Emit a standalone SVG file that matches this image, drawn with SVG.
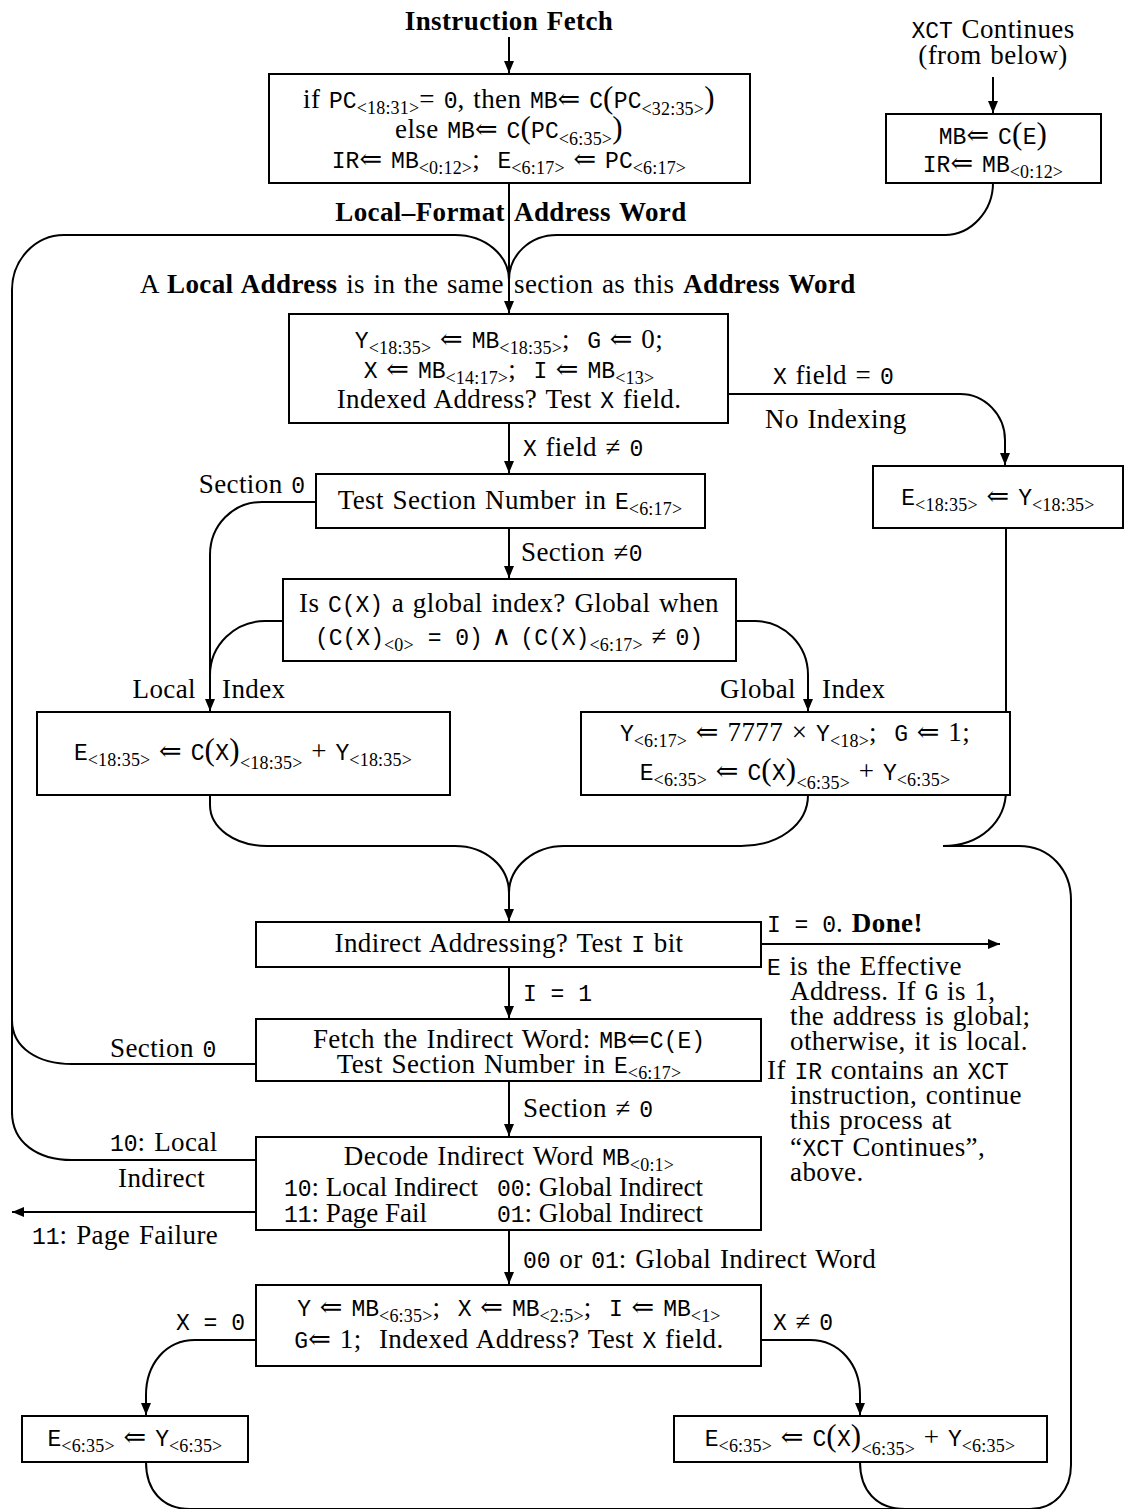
<svg xmlns="http://www.w3.org/2000/svg" width="1131" height="1509" viewBox="0 0 1131 1509">
  <style>
    .box { fill: #fff; stroke: #000; stroke-width: 2; }
    .ln { fill: none; stroke: #000; stroke-width: 2; }
    .ar { marker-end: url(#ah); }
    text { font-family: "Liberation Serif", "DejaVu Serif", serif; font-size: 27px; letter-spacing: 0.4px; word-spacing: 1.5px; fill: #000; }
    .c { text-anchor: middle; }
    .e { text-anchor: end; }
    .tt { font-family: "Liberation Mono", "DejaVu Sans Mono", monospace; font-size: 23px; letter-spacing: 0; word-spacing: 0; }
    .s { font-size: 18px; letter-spacing: 0.2px; }
    .b { font-weight: bold; }
    .P { font-size: 31px; }
    .n { letter-spacing: 0; word-spacing: 0; }
  </style>
  <defs>
    <marker id="ah" viewBox="0 0 12 10" refX="12" refY="5" markerWidth="12" markerHeight="10" markerUnits="userSpaceOnUse" orient="auto">
      <path d="M0,0 L12,5 L0,10 z" fill="#000"/>
    </marker>
  </defs>

  <!-- connectors -->
  <g id="connectors">
    <path class="ln ar" d="M509 37 V73"/>
    <path class="ln ar" d="M993 77 V113"/>
    <path class="ln ar" d="M509 183 V313"/>
    <!-- left re-entry loop from indirect words -->
    <path class="ln" d="M509 280 C509 255 485 235 455 235 H64 C35 235 12 260 12 290 V1115"/>
    <path class="ln" d="M993 183 C993 211 971 235 945 235 H557 C530 235 509 255 509 280"/>
    <!-- no indexing -->
    <path class="ln ar" d="M728 394 H960 C985 394 1005 415 1005 440 V465"/>
    <path class="ln ar" d="M509 423 V473"/>
    <path class="ln ar" d="M316 502 H262 C233 502 210 525 210 555 V711"/>
    <path class="ln" d="M283 621 H265 C235 621 210 645 210 675"/>
    <path class="ln ar" d="M509 528 V578"/>
    <path class="ln ar" d="M736 621 H755 C784 621 808 645 808 675 V711"/>
    <!-- merge into indirect test -->
    <path class="ln ar" d="M210 795 V805 C210 828 235 846 267 846 H455 C485 846 509 866 509 893 V921"/>
    <path class="ln" d="M808 795 C808 825 778 846 741 846 H564 C535 846 509 866 509 893"/>
    <path class="ln" d="M1006 528 V790 C1006 822 980 846 943 846"/>
    <path class="ln" d="M190 1509 H1030 C1055 1509 1071 1490 1071 1465 V900 C1071 870 1050 846 1019 846 H943"/>
    <path class="ln" d="M146 1462 C146 1490 162 1509 190 1509"/>
    <path class="ln" d="M860 1462 C860 1490 876 1509 905 1509"/>
    <!-- indirect chain -->
    <path class="ln ar" d="M761 944 H1000"/>
    <path class="ln ar" d="M509 967 V1018"/>
    <path class="ln" d="M256 1064 H72 C38 1064 12 1048 12 1020"/>
    <path class="ln ar" d="M509 1081 V1136"/>
    <path class="ln" d="M256 1160 H72 C38 1160 12 1143 12 1112"/>
    <path class="ln ar" d="M256 1212 H12"/>
    <path class="ln ar" d="M509 1230 V1284"/>
    <path class="ln ar" d="M256 1340 H195 C165 1340 146 1365 146 1395 V1415"/>
    <path class="ln ar" d="M761 1340 H810 C840 1340 860 1365 860 1395 V1415"/>
  </g>

  <!-- free labels -->
  <g id="labels">
    <text class="c b" x="509" y="30">Instruction Fetch</text>
    <text class="c" x="993" y="38"><tspan class="tt">XCT</tspan> Continues</text>
    <text class="c" x="993" y="64">(from below)</text>
    <text class="e b" x="505" y="221">Local–Format</text>
    <text class="b" x="514" y="221">Address Word</text>
    <text class="e" x="504" y="293">A <tspan class="b">Local Address</tspan> is in the same</text>
    <text x="514" y="293">section as this <tspan class="b">Address Word</tspan></text>
    <text x="773" y="384"><tspan class="tt">X</tspan> field = <tspan class="tt">0</tspan></text>
    <text x="765" y="428">No Indexing</text>
    <text x="523" y="456"><tspan class="tt">X</tspan> field ≠ <tspan class="tt">0</tspan></text>
    <text class="e" x="305" y="493">Section <tspan class="tt">0</tspan></text>
    <text x="521" y="561">Section ≠<tspan class="tt">0</tspan></text>
    <text class="e" x="196" y="698">Local</text>
    <text x="222" y="698">Index</text>
    <text class="e" x="796" y="698">Global</text>
    <text x="822" y="698">Index</text>
    <text x="767" y="932"><tspan class="tt">I = 0</tspan>. <tspan class="b">Done!</tspan></text>
    <!-- note on the effective address -->
    <text x="767" y="975"><tspan class="tt">E</tspan> is the Effective</text>
    <text x="790" y="1000">Address. If <tspan class="tt">G</tspan> is 1,</text>
    <text x="790" y="1025">the address is global;</text>
    <text x="790" y="1050">otherwise, it is local.</text>
    <text x="767" y="1079">If <tspan class="tt">IR</tspan> contains an <tspan class="tt">XCT</tspan></text>
    <text x="790" y="1104">instruction, continue</text>
    <text x="790" y="1129">this process at</text>
    <text x="790" y="1156">“<tspan class="tt">XCT</tspan> Continues”,</text>
    <text x="790" y="1181">above.</text>
    <text x="523" y="1001" class="tt">I = 1</text>
    <text x="110" y="1057">Section <tspan class="tt">0</tspan></text>
    <text x="523" y="1117">Section ≠ <tspan class="tt">0</tspan></text>
    <text x="110" y="1151"><tspan class="tt">10</tspan>: Local</text>
    <text x="118" y="1187">Indirect</text>
    <text x="32" y="1244"><tspan class="tt">11</tspan>: Page Failure</text>
    <text x="523" y="1268"><tspan class="tt">00</tspan> or <tspan class="tt">01</tspan>: Global Indirect Word</text>
    <text class="e tt" x="245" y="1330">X = 0</text>
    <text x="773" y="1330"><tspan class="tt">X</tspan> ≠ <tspan class="tt">0</tspan></text>
  </g>

  <g id="fetch">
    <rect class="box" x="269" y="74" width="481" height="109"/>
    <text class="c" x="509" y="108">if <tspan class="tt">PC</tspan><tspan class="s" dy="6">&lt;18:31&gt;</tspan><tspan dy="-6">= </tspan><tspan class="tt">0</tspan>, then <tspan class="tt">MB</tspan>⇐ <tspan class="tt">C</tspan><tspan class="P">(</tspan><tspan class="tt">PC</tspan><tspan class="s" dy="7">&lt;32:35&gt;</tspan><tspan class="P" dy="-7">)</tspan></text>
    <text class="c" x="509" y="138">else <tspan class="tt">MB</tspan>⇐ <tspan class="tt">C</tspan><tspan class="P">(</tspan><tspan class="tt">PC</tspan><tspan class="s" dy="7">&lt;6:35&gt;</tspan><tspan class="P" dy="-7">)</tspan></text>
    <text class="c" x="509" y="168"><tspan class="tt">IR</tspan>⇐ <tspan class="tt">MB</tspan><tspan class="s" dy="6">&lt;0:12&gt;</tspan><tspan dy="-6">;&#160; </tspan><tspan class="tt">E</tspan><tspan class="s" dy="6">&lt;6:17&gt;</tspan><tspan dy="-6"> ⇐ </tspan><tspan class="tt">PC</tspan><tspan class="s" dy="6">&lt;6:17&gt;</tspan></text>
  </g>

  <g id="xct">
    <rect class="box" x="886" y="114" width="215" height="69"/>
    <text class="c" x="993" y="144"><tspan class="tt">MB</tspan>⇐ <tspan class="tt">C</tspan><tspan class="P">(</tspan><tspan class="tt">E</tspan><tspan class="P">)</tspan></text>
    <text class="c" x="993" y="172"><tspan class="tt">IR</tspan>⇐ <tspan class="tt">MB</tspan><tspan class="s" dy="6">&lt;0:12&gt;</tspan></text>
  </g>

  <g id="local-word">
    <rect class="box" x="289" y="314" width="439" height="109"/>
    <text class="c" x="509" y="348"><tspan class="tt">Y</tspan><tspan class="s" dy="6">&lt;18:35&gt;</tspan><tspan dy="-6"> ⇐ </tspan><tspan class="tt">MB</tspan><tspan class="s" dy="6">&lt;18:35&gt;</tspan><tspan dy="-6">;&#160; </tspan><tspan class="tt">G</tspan> ⇐ 0;</text>
    <text class="c" x="509" y="378"><tspan class="tt">X</tspan> ⇐ <tspan class="tt">MB</tspan><tspan class="s" dy="6">&lt;14:17&gt;</tspan><tspan dy="-6">;&#160; </tspan><tspan class="tt">I</tspan> ⇐ <tspan class="tt">MB</tspan><tspan class="s" dy="6">&lt;13&gt;</tspan></text>
    <text class="c" x="509" y="408">Indexed Address? Test <tspan class="tt">X</tspan> field.</text>
  </g>

  <g id="no-index">
    <rect class="box" x="873" y="466" width="250" height="62"/>
    <text class="c" x="998" y="505"><tspan class="tt">E</tspan><tspan class="s" dy="6">&lt;18:35&gt;</tspan><tspan dy="-6"> ⇐ </tspan><tspan class="tt">Y</tspan><tspan class="s" dy="6">&lt;18:35&gt;</tspan></text>
  </g>

  <g id="section-test">
    <rect class="box" x="316" y="474" width="389" height="54"/>
    <text class="c" x="510" y="509">Test Section Number in <tspan class="tt">E</tspan><tspan class="s" dy="6">&lt;6:17&gt;</tspan></text>
  </g>

  <g id="global-test">
    <rect class="box" x="283" y="579" width="453" height="82"/>
    <text class="c" x="509" y="612">Is <tspan class="tt">C(X)</tspan> a global index? Global when</text>
    <text class="c" x="509" y="645"><tspan class="tt">(C(X)</tspan><tspan class="s" dy="6">&lt;0&gt;</tspan><tspan class="tt" dy="-6"> = 0)</tspan> ∧ <tspan class="tt">(C(X)</tspan><tspan class="s" dy="6">&lt;6:17&gt;</tspan><tspan dy="-6"> ≠ </tspan><tspan class="tt">0)</tspan></text>
  </g>

  <g id="local-index">
    <rect class="box" x="37" y="712" width="413" height="83"/>
    <text class="c" x="243" y="760"><tspan class="tt">E</tspan><tspan class="s" dy="6">&lt;18:35&gt;</tspan><tspan dy="-6"> ⇐ </tspan><tspan class="tt">C</tspan><tspan class="P">(</tspan><tspan class="tt">X</tspan><tspan class="P">)</tspan><tspan class="s" dy="9">&lt;18:35&gt;</tspan><tspan dy="-9"> + </tspan><tspan class="tt">Y</tspan><tspan class="s" dy="6">&lt;18:35&gt;</tspan></text>
  </g>

  <g id="global-index">
    <rect class="box" x="581" y="712" width="429" height="83"/>
    <text class="c" x="795" y="741"><tspan class="tt">Y</tspan><tspan class="s" dy="6">&lt;6:17&gt;</tspan><tspan dy="-6"> ⇐ 7777 × </tspan><tspan class="tt">Y</tspan><tspan class="s" dy="6">&lt;18&gt;</tspan><tspan dy="-6">;&#160; </tspan><tspan class="tt">G</tspan> ⇐ 1;</text>
    <text class="c" x="795" y="780"><tspan class="tt">E</tspan><tspan class="s" dy="6">&lt;6:35&gt;</tspan><tspan dy="-6"> ⇐ </tspan><tspan class="tt">C</tspan><tspan class="P">(</tspan><tspan class="tt">X</tspan><tspan class="P">)</tspan><tspan class="s" dy="9">&lt;6:35&gt;</tspan><tspan dy="-9"> + </tspan><tspan class="tt">Y</tspan><tspan class="s" dy="6">&lt;6:35&gt;</tspan></text>
  </g>

  <g id="indirect-test">
    <rect class="box" x="256" y="922" width="505" height="45"/>
    <text class="c" x="509" y="952">Indirect Addressing? Test <tspan class="tt">I</tspan> bit</text>
  </g>

  <g id="fetch-indirect">
    <rect class="box" x="256" y="1019" width="505" height="62"/>
    <text class="c" x="509" y="1048">Fetch the Indirect Word: <tspan class="tt">MB</tspan>⇐<tspan class="tt">C(E)</tspan></text>
    <text class="c" x="509" y="1073">Test Section Number in <tspan class="tt">E</tspan><tspan class="s" dy="6">&lt;6:17&gt;</tspan></text>
  </g>

  <g id="decode">
    <rect class="box" x="256" y="1137" width="505" height="93"/>
    <text class="c" x="509" y="1165">Decode Indirect Word <tspan class="tt">MB</tspan><tspan class="s" dy="6">&lt;0:1&gt;</tspan></text>
    <text class="n" x="284" y="1196"><tspan class="tt">10</tspan>: Local Indirect</text>
    <text class="n" x="497" y="1196"><tspan class="tt">00</tspan>: Global Indirect</text>
    <text class="n" x="284" y="1222"><tspan class="tt">11</tspan>: Page Fail</text>
    <text class="n" x="497" y="1222"><tspan class="tt">01</tspan>: Global Indirect</text>
  </g>

  <g id="global-word">
    <rect class="box" x="256" y="1285" width="505" height="81"/>
    <text class="c" x="509" y="1316"><tspan class="tt">Y</tspan> ⇐ <tspan class="tt">MB</tspan><tspan class="s" dy="6">&lt;6:35&gt;</tspan><tspan dy="-6">;&#160; </tspan><tspan class="tt">X</tspan> ⇐ <tspan class="tt">MB</tspan><tspan class="s" dy="6">&lt;2:5&gt;</tspan><tspan dy="-6">;&#160; </tspan><tspan class="tt">I</tspan> ⇐ <tspan class="tt">MB</tspan><tspan class="s" dy="6">&lt;1&gt;</tspan></text>
    <text class="c" x="509" y="1348"><tspan class="tt">G</tspan>⇐ 1;&#160; Indexed Address? Test <tspan class="tt">X</tspan> field.</text>
  </g>

  <g id="global-direct">
    <rect class="box" x="22" y="1416" width="226" height="46"/>
    <text class="c" x="135" y="1446"><tspan class="tt">E</tspan><tspan class="s" dy="6">&lt;6:35&gt;</tspan><tspan dy="-6"> ⇐ </tspan><tspan class="tt">Y</tspan><tspan class="s" dy="6">&lt;6:35&gt;</tspan></text>
  </g>

  <g id="global-indexed">
    <rect class="box" x="674" y="1416" width="373" height="46"/>
    <text class="c" x="860" y="1446"><tspan class="tt">E</tspan><tspan class="s" dy="6">&lt;6:35&gt;</tspan><tspan dy="-6"> ⇐ </tspan><tspan class="tt">C</tspan><tspan class="P">(</tspan><tspan class="tt">X</tspan><tspan class="P">)</tspan><tspan class="s" dy="9">&lt;6:35&gt;</tspan><tspan dy="-9"> + </tspan><tspan class="tt">Y</tspan><tspan class="s" dy="6">&lt;6:35&gt;</tspan></text>
  </g>
</svg>
